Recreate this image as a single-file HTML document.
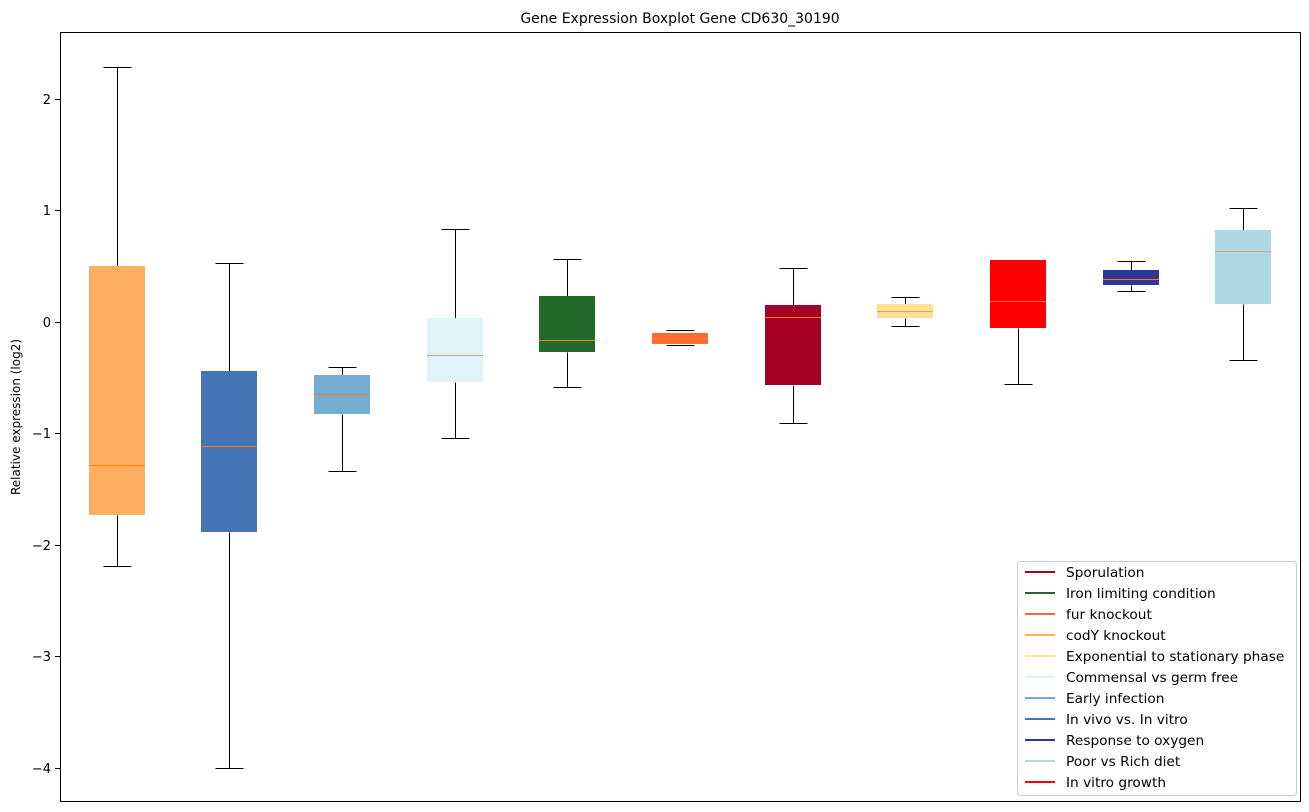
<!DOCTYPE html>
<html><head><style>body{margin:0;background:#fff}svg{display:block;font-family:"DejaVu Sans","Liberation Sans",sans-serif}</style></head>
<body>
<svg width="1309" height="812" xmlns="http://www.w3.org/2000/svg">
<rect width="1309" height="812" fill="#fff"/>
<text x="680" y="23" font-size="14" text-anchor="middle">Gene Expression Boxplot Gene CD630_30190</text>
<text transform="translate(20,417) rotate(-90)" font-size="12" text-anchor="middle">Relative expression (log2)</text>
<g stroke="#000" stroke-width="1" transform="translate(0,0.5)">
<line x1="55" y1="99" x2="60" y2="99"/><line x1="55" y1="210" x2="60" y2="210"/><line x1="55" y1="322" x2="60" y2="322"/><line x1="55" y1="433" x2="60" y2="433"/><line x1="55" y1="545" x2="60" y2="545"/><line x1="55" y1="656" x2="60" y2="656"/><line x1="55" y1="768" x2="60" y2="768"/>
</g>
<g font-size="13" text-anchor="end">
<text x="51" y="104">2</text><text x="51" y="215">1</text><text x="51" y="327">0</text><text x="51" y="438">−1</text><text x="51" y="550">−2</text><text x="51" y="661">−3</text><text x="51" y="773">−4</text>
</g>
<g stroke="#000" stroke-width="1" transform="translate(0.5,0.5)">
<line x1="117" y1="67" x2="117" y2="266"/><line x1="117" y1="515" x2="117" y2="566"/><line x1="103" y1="67" x2="131" y2="67"/><line x1="103" y1="566" x2="131" y2="566"/>
<line x1="229" y1="263" x2="229" y2="371"/><line x1="229" y1="532" x2="229" y2="768"/><line x1="215" y1="263" x2="243" y2="263"/><line x1="215" y1="768" x2="243" y2="768"/>
<line x1="342" y1="367" x2="342" y2="375"/><line x1="342" y1="414" x2="342" y2="471"/><line x1="328" y1="367" x2="356" y2="367"/><line x1="328" y1="471" x2="356" y2="471"/>
<line x1="455" y1="229" x2="455" y2="318"/><line x1="455" y1="382" x2="455" y2="438"/><line x1="441" y1="229" x2="469" y2="229"/><line x1="441" y1="438" x2="469" y2="438"/>
<line x1="567" y1="259" x2="567" y2="296"/><line x1="567" y1="352" x2="567" y2="387"/><line x1="553" y1="259" x2="581" y2="259"/><line x1="553" y1="387" x2="581" y2="387"/>
<line x1="666" y1="330" x2="694" y2="330"/><line x1="666" y1="345" x2="694" y2="345"/>
<line x1="793" y1="268" x2="793" y2="305"/><line x1="793" y1="385" x2="793" y2="423"/><line x1="779" y1="268" x2="807" y2="268"/><line x1="779" y1="423" x2="807" y2="423"/>
<line x1="905" y1="297" x2="905" y2="304"/><line x1="905" y1="318" x2="905" y2="326"/><line x1="891" y1="297" x2="919" y2="297"/><line x1="891" y1="326" x2="919" y2="326"/>
<line x1="1018" y1="328" x2="1018" y2="384"/><line x1="1004" y1="260" x2="1032" y2="260"/><line x1="1004" y1="384" x2="1032" y2="384"/>
<line x1="1131" y1="261" x2="1131" y2="270"/><line x1="1131" y1="285" x2="1131" y2="291"/><line x1="1117" y1="261" x2="1145" y2="261"/><line x1="1117" y1="291" x2="1145" y2="291"/>
<line x1="1243" y1="208" x2="1243" y2="230"/><line x1="1243" y1="304" x2="1243" y2="360"/><line x1="1229" y1="208" x2="1257" y2="208"/><line x1="1229" y1="360" x2="1257" y2="360"/>
</g>
<rect x="89" y="266" width="56" height="249" fill="#fdae61"/>
<rect x="201" y="371" width="56" height="161" fill="#4575b4"/>
<rect x="314" y="375" width="56" height="39" fill="#74add1"/>
<rect x="427" y="318" width="56" height="64" fill="#e0f3f8"/>
<rect x="539" y="296" width="56" height="56" fill="#236b2d"/>
<rect x="652" y="333" width="56" height="11" fill="#ff6a33"/>
<rect x="765" y="305" width="56" height="80" fill="#a50026"/>
<rect x="877" y="304" width="56" height="14" fill="#fee090"/>
<rect x="990" y="260" width="56" height="68" fill="#ff0000"/>
<rect x="1103" y="270" width="56" height="15" fill="#313695"/>
<rect x="1215" y="230" width="56" height="74" fill="#add8e6"/>
<g stroke="#ff7f0e" stroke-width="1" transform="translate(0,0.5)">
<line x1="89" y1="465" x2="145" y2="465"/><line x1="201" y1="446" x2="257" y2="446"/><line x1="314" y1="394" x2="370" y2="394"/><line x1="427" y1="355" x2="483" y2="355" stroke="#d9a26e"/><line x1="539" y1="340" x2="595" y2="340"/><line x1="652" y1="338" x2="708" y2="338"/><line x1="765" y1="317" x2="821" y2="317"/><line x1="877" y1="311" x2="933" y2="311" stroke="#d9a26e"/><line x1="990" y1="301" x2="1046" y2="301"/><line x1="1103" y1="279" x2="1159" y2="279"/><line x1="1215" y1="251" x2="1271" y2="251" stroke="#d9a26e"/>
</g>
<rect x="60.5" y="32.5" width="1240" height="769" fill="none" stroke="#000"/>
<rect x="1017.5" y="561.5" width="279" height="234" rx="3" fill="#fff" fill-opacity="0.8" stroke="#ccc"/>
<g stroke-width="2">
<line x1="1025" y1="572" x2="1055" y2="572" stroke="#a50026"/>
<line x1="1025" y1="593" x2="1055" y2="593" stroke="#236b2d"/>
<line x1="1025" y1="614" x2="1055" y2="614" stroke="#ff6a33"/>
<line x1="1025" y1="635" x2="1055" y2="635" stroke="#fdae61"/>
<line x1="1025" y1="656" x2="1055" y2="656" stroke="#fee090"/>
<line x1="1025" y1="677" x2="1055" y2="677" stroke="#e0f3f8"/>
<line x1="1025" y1="698" x2="1055" y2="698" stroke="#74add1"/>
<line x1="1025" y1="719" x2="1055" y2="719" stroke="#4575b4"/>
<line x1="1025" y1="740" x2="1055" y2="740" stroke="#313695"/>
<line x1="1025" y1="761" x2="1055" y2="761" stroke="#add8e6"/>
<line x1="1025" y1="782" x2="1055" y2="782" stroke="#ff0000"/>
</g>
<g font-size="13.7">
<text x="1066" y="577">Sporulation</text>
<text x="1066" y="598">Iron limiting condition</text>
<text x="1066" y="619">fur knockout</text>
<text x="1066" y="640">codY knockout</text>
<text x="1066" y="661">Exponential to stationary phase</text>
<text x="1066" y="682">Commensal vs germ free</text>
<text x="1066" y="703">Early infection</text>
<text x="1066" y="724">In vivo vs. In vitro</text>
<text x="1066" y="745">Response to oxygen</text>
<text x="1066" y="766">Poor vs Rich diet</text>
<text x="1066" y="787">In vitro growth</text>
</g>
</svg>
</body></html>
